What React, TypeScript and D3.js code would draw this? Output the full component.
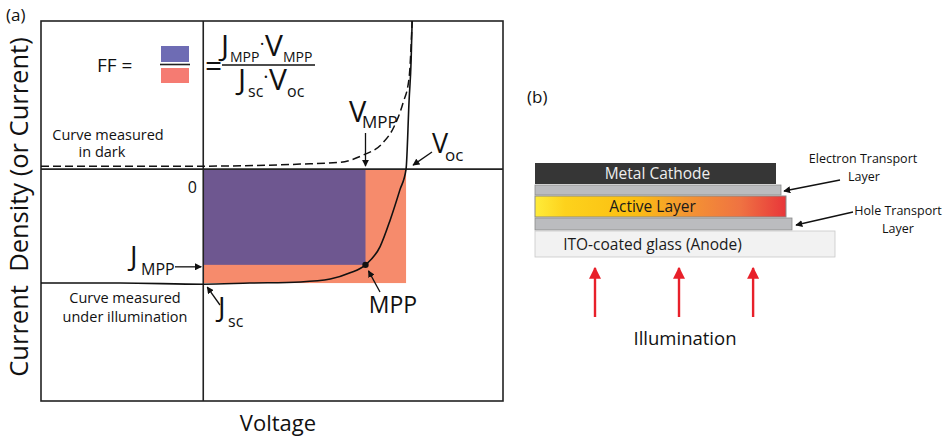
import * as d3 from 'd3';

// ---- panel (a): J–V curves (V in units of Voc, J in units of |Jsc|) ----
const illumV = [-0.8, -0.41, 0, 0.23, 0.48, 0.626, 0.724, 0.8, 0.872, 0.921, 0.97, 1.0, 1.015, 1.025, 1.03];
const illumJ = [-1.0, -1.0, -1.01, -1.0, -0.99, -0.965, -0.91, -0.84, -0.68, -0.45, -0.18, 0, 0.605, 0.956, 1.3];
const darkV = [-0.8, 0, 0.478, 0.675, 0.788, 0.88, 0.94, 0.985, 1.015, 1.03];
const darkJ = [0.026, 0.026, 0.044, 0.06, 0.123, 0.22, 0.37, 0.58, 0.8, 1.3];
const vMpp = 0.8;
const jMpp = -0.84;
const vOc = 1.0;
const jSc = -1.0;
const vRange = [-0.8, 1.478];
const jRange = [-2.035, 1.3];

// ---- panel (b): device stack ----
const layerNames = ['Metal Cathode', 'Electron Transport Layer', 'Active Layer', 'Hole Transport Layer', 'ITO-coated glass (Anode)'];
const layerWidth = [241, 246, 251, 257, 300];
const layerThick = [21, 10, 21, 12, 26];
const layerFill = ['#363636', '#bbbcbf', 'url(#active)', '#bbbcbf', '#f2f2f2'];
const layerText = ['Metal Cathode', '', 'Active Layer', '', 'ITO-coated glass (Anode)'];
const beamPos = [0.2, 0.48, 0.727];

const FONT = '"Open Sans", "Noto Sans", sans-serif';

export default function App() {
  const x = d3.scaleLinear().domain(vRange).range([41, 503]);
  const y = d3.scaleLinear().domain(jRange).range([401, 21]);
  const line = d3.line<[number, number]>().x((d) => x(d[0])).y((d) => y(d[1])).curve(d3.curveMonotoneX);
  const illum = illumV.map((v, i) => [v, illumJ[i]] as [number, number]);
  const dark = darkV.map((v, i) => [v, darkJ[i]] as [number, number]);

  // layer stack scales
  const sx = d3.scaleLinear().domain([0, 300]).range([535, 835]);
  const gap = 1;
  const tops: number[] = [];
  layerThick.reduce((acc, t) => { tops.push(acc); return acc + t + gap; }, 0);
  const total = tops[tops.length - 1] + layerThick[layerThick.length - 1];
  const sy = d3.scaleLinear().domain([0, total]).range([163, 163 + total]);

  const x0 = x(0), y0 = y(0);

  return (
    <svg width={946} height={440} style={{ position: 'absolute', left: 0, top: 0, background: '#fff' }} fontFamily={FONT}>
      <defs>
        <marker id="ah" viewBox="0 0 10 10" refX={9} refY={5} markerWidth={7} markerHeight={7} markerUnits="userSpaceOnUse" orient="auto">
          <path d="M0,0 L10,5 L0,10 z" fill="#111" />
        </marker>
        <marker id="rh" viewBox="0 0 10 10" refX={9} refY={5} markerWidth={12} markerHeight={12} markerUnits="userSpaceOnUse" orient="auto">
          <path d="M0,0 L10,5 L0,10 z" fill="#e8202a" />
        </marker>
        <linearGradient id="active" x1="0" x2="1" y1="0" y2="0">
          <stop offset="0" stopColor="#ffec3a" />
          <stop offset="0.12" stopColor="#fdd21c" />
          <stop offset="0.4" stopColor="#fbbe12" />
          <stop offset="0.6" stopColor="#f49632" />
          <stop offset="0.82" stopColor="#ef7242" />
          <stop offset="1" stopColor="#e8363a" />
        </linearGradient>
      </defs>

      {/* ---------- panel (a) ---------- */}
      <text x={6} y={21} fontSize={17} fill="#111">(a)</text>

      <rect x={x0} y={y0} width={x(vOc) - x0} height={y(jSc) - y0} fill="#f68b6c" />
      <rect x={x0} y={y0} width={x(vMpp) - x0} height={y(jMpp) - y0} fill="#6e5790" />

      <rect x={x(vRange[0])} y={y(jRange[1])} width={x(vRange[1]) - x(vRange[0])} height={y(jRange[0]) - y(jRange[1])}
        fill="none" stroke="#222" strokeWidth={1.6} />
      <line x1={x(vRange[0])} x2={x(vRange[1])} y1={y0} y2={y0} stroke="#222" strokeWidth={1.8} />
      <line x1={x0} x2={x0} y1={y(jRange[1])} y2={y(jRange[0])} stroke="#222" strokeWidth={1.6} />

      <path d={line(dark) ?? ''} fill="none" stroke="#111" strokeWidth={1.5} strokeDasharray="8,4" />
      <path d={line(illum) ?? ''} fill="none" stroke="#111" strokeWidth={1.6} />
      <circle cx={x(vMpp)} cy={y(jMpp)} r={3.2} fill="#111" />

      {/* FF formula */}
      <text x={97} y={72} fontSize={19} fill="#111">FF =</text>
      <rect x={161} y={46} width={28} height={16} fill="#6e6cb4" />
      <line x1={160} x2={190} y1={64.5} y2={64.5} stroke="#222" strokeWidth={1.6} />
      <rect x={161} y={68} width={28} height={15} fill="#f57b72" />
      <text x={205} y={76} fontSize={30} fill="#111">=</text>
      <line x1={222} x2={315} y1={65} y2={65} stroke="#111" strokeWidth={1.5} />
      <text x={221} y={56} fontSize={30} fill="#111">J</text>
      <text x={230} y={62} fontSize={14} fill="#111">MPP</text>
      <text x={262} y={50} fontSize={18} fill="#111" textAnchor="middle">·</text>
      <text x={265} y={56} fontSize={30} fill="#111">V</text>
      <text x={283} y={62} fontSize={14} fill="#111">MPP</text>
      <text x={238} y={90} fontSize={30} fill="#111">J</text>
      <text x={248} y={97} fontSize={16} fill="#111">sc</text>
      <text x={266} y={84} fontSize={20} fill="#111" textAnchor="middle">·</text>
      <text x={269} y={90} fontSize={30} fill="#111">V</text>
      <text x={287} y={97} fontSize={16} fill="#111">oc</text>

      {/* labels */}
      <text x={108} y={140} fontSize={14.5} fill="#111" textAnchor="middle">Curve measured</text>
      <text x={102} y={157} fontSize={14.5} fill="#111" textAnchor="middle">in dark</text>
      <text x={125} y={303} fontSize={14.5} fill="#111" textAnchor="middle">Curve measured</text>
      <text x={125} y={322} fontSize={14.5} fill="#111" textAnchor="middle">under illumination</text>
      <text x={197} y={193} fontSize={16} fill="#111" textAnchor="end">0</text>

      <text x={349} y={122} fontSize={29} fill="#111">V</text>
      <text x={362} y={128} fontSize={17} fill="#111">MPP</text>
      <line x1={x(vMpp)} x2={x(vMpp)} y1={133} y2={y0 - 3} stroke="#111" strokeWidth={1.3} markerEnd="url(#ah)" />

      <text x={432} y={153} fontSize={27} fill="#111">V</text>
      <text x={445} y={161} fontSize={17} fill="#111">oc</text>
      <line x1={432} x2={x(vOc) + 7} y1={152} y2={y0 - 4} stroke="#111" strokeWidth={1.3} markerEnd="url(#ah)" />

      <text x={130} y={266} fontSize={28} fill="#111">J</text>
      <text x={141} y={275} fontSize={16} fill="#111">MPP</text>
      <line x1={175} x2={x0 - 2} y1={y(jMpp) + 2} y2={y(jMpp) + 2} stroke="#111" strokeWidth={1.3} markerEnd="url(#ah)" />

      <text x={218} y={317} fontSize={28} fill="#111">J</text>
      <text x={228} y={327} fontSize={16} fill="#111">sc</text>
      <line x1={220} x2={x0 + 4} y1={305} y2={y(jSc) + 4} stroke="#111" strokeWidth={1.3} markerEnd="url(#ah)" />

      <text x={393} y={313} fontSize={23} fill="#111" textAnchor="middle">MPP</text>
      <line x1={380} x2={x(vMpp) + 3} y1={292} y2={y(jMpp) + 6} stroke="#111" strokeWidth={1.3} markerEnd="url(#ah)" />

      <text x={278} y={431} fontSize={22} fill="#111" textAnchor="middle">Voltage</text>
      <text transform="translate(27.5,207) rotate(-90)" fontSize={25.5} fill="#111" textAnchor="middle" style={{ whiteSpace: 'pre' }}>
        {'Current  Density (or Current)'}
      </text>

      {/* ---------- panel (b) ---------- */}
      <text x={527} y={103} fontSize={17} fill="#111">(b)</text>

      {layerNames.map((name, i) => (
        <g key={name}>
          <rect x={sx(0)} y={sy(tops[i])} width={sx(layerWidth[i]) - sx(0)} height={sy(tops[i] + layerThick[i]) - sy(tops[i])}
            fill={layerFill[i]} stroke={i === 0 ? 'none' : i === 4 ? '#c8c8c8' : '#8a8a8a'} strokeWidth={i === 2 ? 1 : 0.8} />
          {layerText[i] && (
            <text x={sx(layerWidth[0] / 2) - 3 + (i === 0 ? 5 : 0)} y={sy(tops[i] + layerThick[i] / 2) + 5.5} fontSize={15.5}
              fill={i === 0 ? '#eeeeee' : '#1a1a1a'} textAnchor="middle">{layerText[i]}</text>
          )}
        </g>
      ))}

      <text x={863} y={163} fontSize={12.5} fill="#111" textAnchor="middle">Electron Transport</text>
      <text x={864} y={181} fontSize={12.5} fill="#111" textAnchor="middle">Layer</text>
      <line x1={840} x2={sx(layerWidth[1]) + 3} y1={180} y2={sy(tops[1] + layerThick[1] / 2) + 1} stroke="#111" strokeWidth={1.3} markerEnd="url(#ah)" />

      <text x={898} y={215} fontSize={12.5} fill="#111" textAnchor="middle">Hole Transport</text>
      <text x={898} y={233} fontSize={12.5} fill="#111" textAnchor="middle">Layer</text>
      <line x1={853} x2={sx(layerWidth[3]) + 4} y1={212} y2={sy(tops[3] + layerThick[3] / 2) + 1} stroke="#111" strokeWidth={1.3} markerEnd="url(#ah)" />

      {beamPos.map((p) => (
        <line key={p} x1={sx(p * 300)} x2={sx(p * 300)} y1={317} y2={268} stroke="#e8202a" strokeWidth={2.4} markerEnd="url(#rh)" />
      ))}
      <text x={685} y={345} fontSize={18.5} fill="#111" textAnchor="middle">Illumination</text>
    </svg>
  );
}
